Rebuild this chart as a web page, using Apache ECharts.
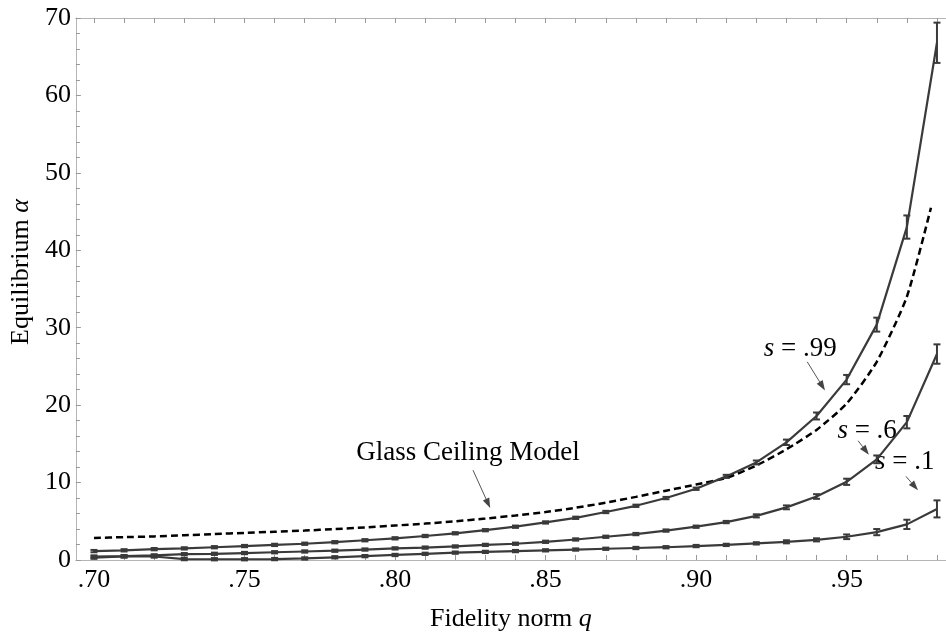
<!DOCTYPE html>
<html>
<head>
<meta charset="utf-8">
<script src="https://cdn.jsdelivr.net/npm/echarts@6/dist/echarts.min.js"></script>
<style>
  html, body { margin: 0; padding: 0; background: #fff; }
  #chart { width: 946px; height: 637px; }
</style>
</head>
<body>
<div id="chart"></div>
<script>
// fidelity norm q, one point per 0.01
const fidelity = [0.70, 0.71, 0.72, 0.73, 0.74, 0.75, 0.76, 0.77, 0.78, 0.79,
                  0.80, 0.81, 0.82, 0.83, 0.84, 0.85, 0.86, 0.87, 0.88, 0.89,
                  0.90, 0.91, 0.92, 0.93, 0.94, 0.95, 0.96, 0.97, 0.98];
const xLabelValues = [0.70, 0.75, 0.80, 0.85, 0.90, 0.95];

// equilibrium alpha, s = .99
const s99 = [1.15, 1.25, 1.4, 1.5, 1.65, 1.8, 1.95, 2.1, 2.3, 2.55,
             2.8, 3.1, 3.45, 3.85, 4.3, 4.85, 5.45, 6.2, 7.0, 8.0,
             9.2, 10.8, 12.6, 15.2, 18.6, 23.3, 30.4, 43.0, 66.8];
const s99Err = [0.15, 0.15, 0.15, 0.15, 0.15, 0.15, 0.15, 0.15, 0.15, 0.15,
                0.15, 0.15, 0.15, 0.15, 0.15, 0.15, 0.15, 0.15, 0.15, 0.15,
                0.15, 0.2, 0.25, 0.35, 0.45, 0.6, 0.9, 1.5, 2.6];

// s = .6
const s6 = [0.45, 0.5, 0.6, 0.75, 0.8, 0.9, 1.0, 1.1, 1.2, 1.35,
            1.5, 1.6, 1.75, 1.95, 2.1, 2.35, 2.65, 3.0, 3.35, 3.8,
            4.3, 4.9, 5.7, 6.8, 8.2, 10.1, 13.0, 17.8, 26.6];
const s6Err = [0.15, 0.15, 0.15, 0.15, 0.15, 0.15, 0.15, 0.15, 0.15, 0.15,
               0.15, 0.15, 0.15, 0.15, 0.15, 0.15, 0.15, 0.15, 0.15, 0.15,
               0.15, 0.15, 0.2, 0.25, 0.3, 0.4, 0.5, 0.8, 1.25];

// s = .1
const s1 = [0.3, 0.45, 0.45, 0.12, 0.1, 0.1, 0.12, 0.2, 0.35, 0.5,
            0.65, 0.8, 0.95, 1.05, 1.15, 1.25, 1.35, 1.45, 1.55, 1.65,
            1.8, 1.95, 2.15, 2.35, 2.6, 3.0, 3.6, 4.6, 6.6];
const s1Err = [0.15, 0.15, 0.15, 0.15, 0.15, 0.15, 0.15, 0.15, 0.15, 0.15,
               0.15, 0.15, 0.15, 0.15, 0.15, 0.15, 0.15, 0.15, 0.15, 0.15,
               0.15, 0.15, 0.15, 0.2, 0.2, 0.3, 0.4, 0.6, 1.1];

// glass ceiling model (dashed)
const glassQ = [0.70, 0.71, 0.72, 0.73, 0.74, 0.75, 0.76, 0.77, 0.78, 0.79,
                0.80, 0.81, 0.82, 0.83, 0.84, 0.85, 0.86, 0.87, 0.88, 0.89,
                0.90, 0.91, 0.92, 0.93, 0.94, 0.95, 0.96, 0.97, 0.978];
const glass = [2.85, 2.95, 3.05, 3.2, 3.35, 3.5, 3.65, 3.8, 4.0, 4.2,
               4.45, 4.7, 5.0, 5.35, 5.75, 6.2, 6.75, 7.4, 8.15, 8.95,
               9.75, 10.6, 12.2, 14.3, 16.8, 20.2, 25.6, 34.0, 45.5];

// annotations: label position, arrow start, arrow end (data coords)
const notes = [
  { text: '{i|s} = .99', at: [0.9346, 27.3], from: [0.9369, 25.6], to: [0.9428, 21.9] },
  { text: '{i|s} = .6', at: [0.9568, 16.7], from: [0.9538, 15.4], to: [0.9574, 13.6] },
  { text: '{i|s} = .1', at: [0.9693, 12.7], from: [0.9697, 10.8], to: [0.9737, 9.0] },
  { text: 'Glass Ceiling Model', at: [0.8242, 13.8], from: [0.8259, 11.6], to: [0.8316, 6.7] }
];

const lineColor = '#3a3a3a';
const axisColor = '#b5b5b5';
const serif = '"Liberation Serif", "DejaVu Serif", serif';

const pairs = (xs, ys) => xs.map((x, i) => [x, ys[i]]);
const bars = (ys, errs) => fidelity.map((x, i) => [x, ys[i] - errs[i], ys[i] + errs[i]]);

function errorSeries(data) {
  return {
    type: 'custom',
    data: data,
    z: 4,
    silent: true,
    renderItem: (params, api) => {
      const lo = api.coord([api.value(0), api.value(1)]);
      const hi = api.coord([api.value(0), api.value(2)]);
      const w = 3.5;
      const st = { stroke: lineColor, lineWidth: 2 };
      return {
        type: 'group',
        children: [
          { type: 'line', shape: { x1: lo[0], y1: lo[1], x2: hi[0], y2: hi[1] }, style: st },
          { type: 'line', shape: { x1: lo[0] - w, y1: lo[1], x2: lo[0] + w, y2: lo[1] }, style: st },
          { type: 'line', shape: { x1: hi[0] - w, y1: hi[1], x2: hi[0] + w, y2: hi[1] }, style: st }
        ]
      };
    }
  };
}

function curve(data, dashed) {
  return {
    type: 'line',
    data: data,
    showSymbol: false,
    smooth: dashed ? 0.2 : false,
    silent: true,
    z: 3,
    lineStyle: dashed
      ? { color: '#000', width: 2.5, type: [7, 4] }
      : { color: lineColor, width: 2.2 }
  };
}

const xTicks = {
  show: true, inside: true, length: 5,
  customValues: fidelity,
  lineStyle: { color: '#999', width: 1 }
};

const nameStyle = {
  fontFamily: serif, fontSize: 26, color: '#000',
  rich: { i: { fontFamily: serif, fontSize: 26, fontStyle: 'italic', color: '#000' } }
};

const chart = echarts.init(document.getElementById('chart'));

chart.setOption({
  animation: false,
  backgroundColor: '#fff',
  grid: { left: 74, right: 0, top: 18, bottom: 75 },
  xAxis: [{
    type: 'value',
    min: 0.694,
    max: 0.983,
    name: 'Fidelity norm {i|q}',
    nameLocation: 'middle',
    nameGap: 46,
    nameTextStyle: nameStyle,
    axisLine: { lineStyle: { color: axisColor, width: 1 } },
    axisTick: xTicks,
    axisLabel: {
      customValues: xLabelValues,
      margin: 7,
      fontFamily: serif, fontSize: 26, color: '#000',
      formatter: v => '.' + Math.round(v * 100)
    },
    splitLine: { show: false }
  }, {
    type: 'value',
    position: 'top',
    min: 0.694,
    max: 0.983,
    axisLine: { lineStyle: { color: axisColor, width: 1 } },
    axisTick: xTicks,
    axisLabel: { show: false },
    splitLine: { show: false }
  }],
  yAxis: {
    type: 'value',
    min: 0,
    max: 70,
    interval: 10,
    name: 'Equilibrium {i|α}',
    nameLocation: 'middle',
    nameGap: 37,
    nameTextStyle: Object.assign({}, nameStyle, { padding: [0, 0, 0, 34] }),
    axisLine: { show: true, lineStyle: { color: axisColor, width: 1 } },
    axisTick: { show: true, inside: true, length: 5, lineStyle: { color: '#999' } },
    minorTick: { show: true, splitNumber: 5, length: 4, lineStyle: { color: '#999' } },
    axisLabel: { margin: 5, fontFamily: serif, fontSize: 26, color: '#000' },
    splitLine: { show: false }
  },
  series: [
    curve(pairs(glassQ, glass), true),
    curve(pairs(fidelity, s99)),
    curve(pairs(fidelity, s6)),
    curve(pairs(fidelity, s1)),
    errorSeries(bars(s99, s99Err)),
    errorSeries(bars(s6, s6Err)),
    errorSeries(bars(s1, s1Err))
  ]
});

// annotation labels and arrows
const px = p => chart.convertToPixel({ xAxisIndex: 0, yAxisIndex: 0 }, p);
const graphics = [];
notes.forEach(n => {
  const c = px(n.at), a = px(n.from), b = px(n.to);
  graphics.push({
    type: 'text', x: c[0], y: c[1], silent: true,
    style: {
      text: n.text, fontFamily: serif, fontSize: 27, fill: '#000',
      align: 'center', verticalAlign: 'middle',
      rich: { i: { fontFamily: serif, fontSize: 27, fontStyle: 'italic', fill: '#000' } }
    }
  });
  const ang = Math.atan2(b[1] - a[1], b[0] - a[0]);
  const hl = 10, hw = 3.5;
  const bx = b[0] - hl * Math.cos(ang), by = b[1] - hl * Math.sin(ang);
  graphics.push({
    type: 'line', silent: true,
    shape: { x1: a[0], y1: a[1], x2: bx, y2: by },
    style: { stroke: '#555', lineWidth: 1 }
  });
  graphics.push({
    type: 'polygon', silent: true,
    shape: { points: [
      [b[0], b[1]],
      [bx - hw * Math.sin(ang), by + hw * Math.cos(ang)],
      [bx + hw * Math.sin(ang), by - hw * Math.cos(ang)]
    ] },
    style: { fill: '#444' }
  });
});
chart.setOption({ graphic: graphics });
</script>
</body>
</html>
